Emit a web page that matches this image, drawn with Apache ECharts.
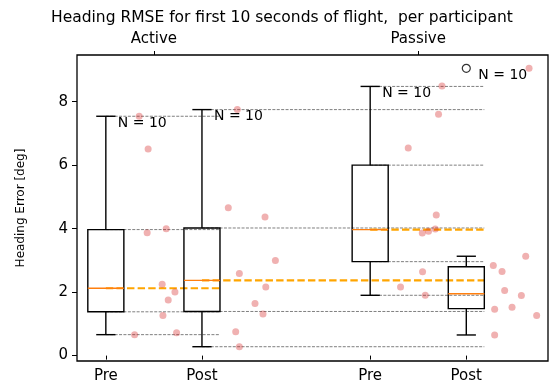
<!DOCTYPE html>
<html>
<head>
<meta charset="utf-8">
<script src="https://cdn.jsdelivr.net/npm/echarts@6/dist/echarts.min.js"></script>
<style>
  html, body { margin: 0; padding: 0; background: #fff; }
  #chart { width: 556px; height: 387px; }
</style>
</head>
<body>
<div id="chart"></div>
<script>
// ---- data ----
const titleText = 'Heading RMSE for first 10 seconds of flight,  per participant';
const yAxisName = 'Heading Error [deg]';
const categories = ['Pre', 'Post', 'Pre', 'Post'];
const positions = [1, 2, 3.75, 4.75];
const groupLabels = ['Active', 'Passive'];
const groupPositions = [1.5, 4.25];
const yTicks = [0, 2, 4, 6, 8];

const whiskerLow  = [0.66, 0.28, 1.90, 0.65];
const quartile1   = [1.38, 1.39, 2.96, 1.48];
const medians     = [2.12, 2.37, 3.97, 1.95];
const quartile3   = [3.97, 4.02, 6.00, 2.80];
const whiskerHigh = [7.54, 7.75, 8.48, 3.13];
const outliers    = [[], [], [], [9.05]];
const counts      = [10, 10, 10, 10];

// individual participant values (y) with their jittered x placement
const activePreY   = [7.54, 6.51, 3.87, 4.00, 2.25, 2.00, 1.75, 1.26, 0.66, 0.72];
const activePreX   = [1.347, 1.44, 1.43, 1.628, 1.586, 1.719, 1.649, 1.594, 1.299, 1.736];
const activePostY  = [7.75, 4.66, 4.37, 3.00, 2.59, 2.16, 1.64, 1.31, 0.75, 0.28];
const activePostX  = [2.368, 2.274, 2.656, 2.764, 2.389, 2.664, 2.552, 2.635, 2.351, 2.389];
const passivePreY  = [8.49, 7.60, 6.54, 4.43, 3.86, 3.92, 3.99, 2.64, 2.16, 1.90];
const passivePreX  = [4.497, 4.461, 4.146, 4.4375, 4.292, 4.357, 4.427, 4.295, 4.066, 4.323];
const passivePostY = [9.05, 2.84, 2.65, 3.13, 2.05, 1.89, 1.52, 1.46, 1.26, 0.65];
const passivePostX = [5.403, 5.031, 5.122, 5.368, 5.149, 5.323, 5.226, 5.045, 5.482, 5.045];

// ---- layout/style ----
const FONT = 'DejaVu Sans';
const boxWidth = 0.375;
const capWidth = 0.2;
const xMin = 0.7, xMax = 5.6;
const yMin = -0.17, yMax = 9.47;

const allX = [activePreX, activePostX, passivePreX, passivePostX];
const allY = [activePreY, activePostY, passivePreY, passivePostY];
const scatterData = [];
allX.forEach((xs, g) => xs.forEach((x, k) => scatterData.push([x, allY[g][k]])));

const outlierData = [];
outliers.forEach((arr, i) => arr.forEach(v => outlierData.push([positions[i], v])));

// reference line end: first box lines reach the right edge of the second box,
// the rest reach the right edge of the last box
function refEnd(i) {
  if (i === 0) return positions[1] + boxWidth / 2;
  return positions[positions.length - 1] + boxWidth / 2;
}

const boxData = positions.map((p, i) => [p, whiskerLow[i], quartile1[i], medians[i], quartile3[i], whiskerHigh[i], i]);

function lineEl(api, x1, y1, x2, y2, style) {
  const a = api.coord([x1, y1]);
  const b = api.coord([x2, y2]);
  return { type: 'line', shape: { x1: a[0], y1: a[1], x2: b[0], y2: b[1] }, style: style };
}

function refLinesRender(params, api) {
  const x = api.value(0), i = api.value(6);
  const children = [];
  if (i < positions.length - 1) {
    const end = refEnd(i);
    const gray = { stroke: '#707070', lineWidth: 0.9, lineDash: [3, 1.4] };
    [api.value(1), api.value(2), api.value(4), api.value(5)].forEach(v => {
      children.push(lineEl(api, x, v, end, v, gray));
    });
    children.push(lineEl(api, x, api.value(3), end, api.value(3),
      { stroke: '#FFA500', lineWidth: 2.1, lineDash: [7.4, 3.2] }));
  }
  return { type: 'group', children: children };
}

function boxRender(params, api) {
  const x = api.value(0);
  const lo = api.value(1), q1 = api.value(2), med = api.value(3), q3 = api.value(4), hi = api.value(5);
  const blk = { stroke: '#000', lineWidth: 1.4, fill: null };
  const tl = api.coord([x - boxWidth / 2, q3]);
  const br = api.coord([x + boxWidth / 2, q1]);
  return {
    type: 'group',
    children: [
      lineEl(api, x, q3, x, hi, blk),
      lineEl(api, x, q1, x, lo, blk),
      lineEl(api, x - capWidth / 2, hi, x + capWidth / 2, hi, blk),
      lineEl(api, x - capWidth / 2, lo, x + capWidth / 2, lo, blk),
      { type: 'rect', shape: { x: tl[0], y: tl[1], width: br[0] - tl[0], height: br[1] - tl[1] },
        style: { stroke: '#000', lineWidth: 1.4, fill: 'none' } },
      lineEl(api, x - boxWidth / 2, med, x + boxWidth / 2, med, { stroke: '#ff7f0e', lineWidth: 1.4 })
    ]
  };
}

const nData = positions.map((p, i) => {
  const top = Math.max(whiskerHigh[i], ...(outliers[i].length ? outliers[i] : [whiskerHigh[i]]));
  return [p + 0.125, top, counts[i]];
});

function nRender(params, api) {
  const c = api.coord([api.value(0), api.value(1)]);
  return {
    type: 'text',
    x: c[0], y: c[1],
    style: { text: 'N = ' + api.value(2), fontFamily: FONT, fontSize: 14, fill: '#000',
             textAlign: 'left', textVerticalAlign: 'top' }
  };
}

const chart = echarts.init(document.getElementById('chart'), null, { renderer: 'canvas' });
chart.setOption({
  animation: false,
  backgroundColor: '#fff',
  title: {
    text: titleText, left: 46, top: 5,
    textStyle: { fontFamily: FONT, fontSize: 15.5, fontWeight: 'normal', color: '#000' }
  },
  grid: { left: 77, right: 8, top: 55, bottom: 26, show: true, borderColor: '#000', borderWidth: 1.3, backgroundColor: 'transparent' },
  xAxis: [
    {
      type: 'value', min: xMin, max: xMax, position: 'bottom',
      splitLine: { show: false },
      axisLine: { show: false },
      axisTick: { show: true, customValues: positions, length: 4, lineStyle: { color: '#000' } },
      axisLabel: {
        customValues: positions, margin: 8,
        formatter: v => categories[positions.indexOf(v)] || '',
        fontFamily: FONT, fontSize: 15, color: '#000'
      }
    },
    {
      type: 'value', min: xMin, max: xMax, position: 'top',
      splitLine: { show: false },
      axisLine: { show: false },
      axisTick: { show: true, customValues: groupPositions, length: 4, lineStyle: { color: '#000' } },
      axisLabel: {
        customValues: groupPositions, margin: 8,
        formatter: v => groupLabels[groupPositions.indexOf(v)] || '',
        fontFamily: FONT, fontSize: 15, color: '#000'
      }
    }
  ],
  yAxis: {
    type: 'value', min: yMin, max: yMax,
    name: yAxisName, nameLocation: 'middle', nameGap: 50,
    nameTextStyle: { fontFamily: FONT, fontSize: 12, color: '#000' },
    splitLine: { show: false },
    axisLine: { show: false },
    axisTick: { show: true, customValues: yTicks, length: 5, lineStyle: { color: '#000' } },
    axisLabel: { customValues: yTicks, margin: 9, fontFamily: FONT, fontSize: 15, color: '#000' }
  },
  series: [
    { type: 'custom', name: 'ref', xAxisIndex: 0, z: 2, renderItem: refLinesRender, data: boxData, encode: { x: 0, y: [1, 5] }, silent: true },
    { type: 'custom', name: 'box', xAxisIndex: 0, z: 3, renderItem: boxRender, data: boxData, encode: { x: 0, y: [1, 5] }, silent: true },
    { type: 'custom', name: 'n', xAxisIndex: 0, z: 4, renderItem: nRender, data: nData, encode: { x: 0, y: 1 }, silent: true },
    { type: 'scatter', name: 'outliers', xAxisIndex: 0, z: 5, data: outlierData, symbol: 'circle', symbolSize: 8,
      itemStyle: { color: 'rgba(255,255,255,0)', borderColor: '#000', borderWidth: 1.2 } },
    { type: 'scatter', name: 'participants', xAxisIndex: 0, z: 6, data: scatterData, symbol: 'circle', symbolSize: 7,
      itemStyle: { color: 'rgba(214,39,40,0.45)' } }
  ]
});
</script>
</body>
</html>
